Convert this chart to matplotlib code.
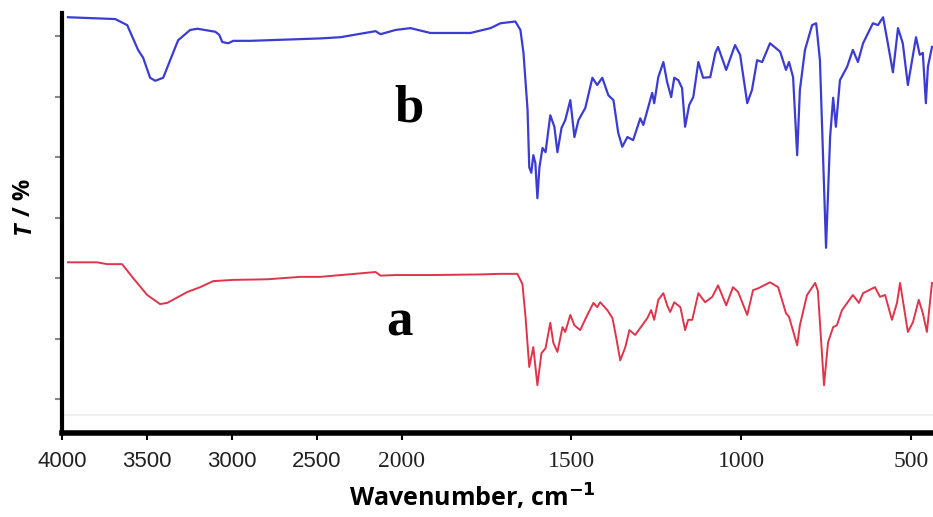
import numpy as np
import matplotlib
matplotlib.use("Agg")
import matplotlib.pyplot as plt

# ---- data (wavenumber cm^-1, transmittance in arbitrary % units) ----
wn_b = [3965, 3687, 3616, 3552, 3522, 3481, 3451, 3404, 3363, 3316, 3245, 3203,
        3097, 3074, 3056, 3021, 2991, 2891, 2478, 2360, 2153, 2124, 2035, 1974,
        1915, 1797, 1738, 1709, 1665, 1650, 1641, 1629, 1624, 1618, 1612, 1606,
        1600, 1594, 1585, 1576, 1562, 1550, 1541, 1529, 1518, 1503, 1491, 1479,
        1459, 1438, 1424, 1409, 1391, 1376, 1362, 1350, 1335, 1318, 1297, 1288,
        1262, 1256, 1244, 1229, 1218, 1206, 1197, 1185, 1174, 1165, 1153, 1141,
        1126, 1112, 1091, 1076, 1068, 1044, 1018, 1003, 982, 968, 953, 938,
        915, 885, 868, 859, 847, 835, 827, 812, 791, 779, 768, 750,
        738, 729, 721, 709, 688, 671, 656, 641, 612, 597, 582, 568,
        553, 538, 524, 509, 485, 474, 465, 456, 450, 438]
t_b = [73.1, 72.8, 71.8, 67.7, 66.4, 63.1, 62.6, 63.1, 66.0, 69.3, 71.0, 71.2,
       70.7, 70.2, 69.0, 68.8, 69.2, 69.2, 69.6, 69.8, 70.8, 70.3, 71.0, 71.3,
       70.5, 70.5, 71.3, 72.1, 72.4, 71.0, 67.2, 57.8, 48.3, 47.4, 50.3, 49.0,
       43.2, 48.3, 51.5, 50.8, 56.9, 55.0, 50.8, 54.8, 56.1, 59.4, 53.3, 56.1,
       58.1, 63.1, 61.9, 63.1, 60.2, 59.4, 54.0, 51.7, 53.3, 52.8, 56.4, 55.3,
       60.6, 58.9, 63.2, 65.7, 62.4, 59.9, 63.1, 62.7, 61.4, 55.0, 58.6, 59.9,
       65.7, 63.1, 63.2, 67.2, 68.2, 64.4, 68.5, 66.9, 58.9, 61.1, 66.0, 65.7,
       68.8, 67.4, 64.4, 65.7, 63.2, 50.3, 61.1, 67.7, 71.8, 72.1, 66.0, 35.0,
       53.3, 59.8, 55.0, 62.7, 64.9, 67.7, 65.7, 68.8, 72.1, 71.8, 73.1, 68.8,
       64.0, 71.3, 68.8, 61.9, 69.8, 66.9, 67.2, 58.9, 64.9, 68.2]

wn_a = [3965, 3793, 3734, 3646, 3581, 3498, 3422, 3380, 3262, 3186, 3109, 2991,
        2790, 2596, 2478, 2153, 2124, 2035, 1915, 1768, 1709, 1659, 1644, 1635,
        1624, 1612, 1600, 1588, 1576, 1562, 1553, 1541, 1526, 1518, 1503, 1491,
        1474, 1453, 1435, 1424, 1415, 1394, 1379, 1368, 1356, 1341, 1329, 1312,
        1276, 1265, 1256, 1244, 1229, 1218, 1209, 1197, 1179, 1165, 1156, 1144,
        1126, 1106, 1085, 1068, 1044, 1024, 1009, 982, 965, 950, 915, 891,
        868, 859, 835, 827, 806, 782, 774, 756, 744, 729, 718, 703,
        671, 653, 641, 606, 591, 576, 556, 541, 532, 509, 494, 477,
        465, 453, 438]
t_a = [32.6, 32.6, 32.3, 32.3, 30.0, 27.2, 25.7, 25.9, 27.7, 28.5, 29.5, 29.7,
       29.8, 30.2, 30.2, 31.0, 30.4, 30.5, 30.5, 30.6, 30.7, 30.7, 29.0, 23.6,
       15.3, 18.6, 12.3, 17.6, 18.4, 22.6, 19.3, 17.8, 21.9, 21.1, 23.9, 22.2,
       21.4, 23.9, 25.9, 25.2, 26.0, 24.7, 23.4, 20.2, 16.4, 18.6, 21.4, 20.6,
       23.4, 24.7, 23.1, 26.4, 27.5, 25.5, 24.4, 26.0, 25.2, 21.4, 23.1, 23.1,
       27.5, 26.0, 26.9, 28.8, 25.5, 28.5, 27.7, 23.9, 28.0, 28.3, 29.3, 28.5,
       24.2, 23.6, 18.9, 22.2, 27.2, 29.2, 27.9, 12.3, 19.4, 21.9, 22.2, 24.7,
       27.2, 25.9, 27.5, 28.5, 26.9, 27.2, 23.1, 25.9, 29.2, 21.1, 22.7, 26.4,
       24.2, 21.1, 29.2]

xticks = [4000, 3500, 3000, 2500, 2000, 1500, 1000, 500]
xtick_labels = ["4000", "3500", "3000", "2500", "2000", "1500", "1000", "500"]
yticks = [10, 20, 30, 40, 50, 60, 70]
series_labels = ["b", "a"]


def fwd(x):
    x = np.asarray(x, dtype=float)
    return np.where(x >= 2000, x, 2000 - (2000 - x) * 2.0)


def inv(u):
    u = np.asarray(u, dtype=float)
    return np.where(u >= 2000, u, 2000 - (2000 - u) / 2.0)


fig = plt.figure(figsize=(9.33, 5.17), dpi=100)
ax = fig.add_axes([62 / 933, 1 - 433 / 517, 1 - 62 / 933, (433 - 13) / 517])
ax.set_xscale('function', functions=(fwd, inv))
ax.set_xlim(4000, 435)
ax.set_ylim(4.4, 73.8)

ax.axhline(7.3, color='#ececec', lw=1.2, zorder=0)
ax.plot(wn_b, t_b, color='#3c3cd2', lw=1.6, solid_joinstyle='round')
ax.plot(wn_a, t_a, color='#e0344c', lw=1.4, solid_joinstyle='round')

for s in ['top', 'right']:
    ax.spines[s].set_visible(False)
ax.spines['left'].set_linewidth(3.0)
ax.spines['bottom'].set_linewidth(4.0)

ax.set_yticks(yticks)
ax.set_yticklabels([])
ax.tick_params(axis='y', direction='out', length=5, width=1.5, colors='#888888')
ax.set_xticks(xticks)
ax.set_xticklabels(xtick_labels)
ax.tick_params(axis='x', direction='out', length=5, width=1.5, pad=8, colors='black')
for i, lab in enumerate(ax.get_xticklabels()):
    if i < 4:
        lab.set_fontfamily(['Liberation Sans', 'DejaVu Sans'])
        lab.set_fontsize(16)
    else:
        lab.set_fontfamily(['Liberation Serif', 'DejaVu Serif'])
        lab.set_fontsize(17)
    lab.set_color('#222222')

fig.text(472 / 933, 1 - 497 / 517, "Wavenumber, cm$^{\\mathbf{-1}}$", ha='center', va='center',
         fontsize=18, fontweight='bold', family=['Open Sans', 'DejaVu Sans'])
fig.text(24 / 933, 1 - 229 / 517, "T", rotation=90, ha='center', va='center',
         fontsize=17, fontweight='bold', fontstyle='italic', family=['Open Sans', 'DejaVu Sans'])
fig.text(24 / 933, 1 - 197 / 517, "/ %", rotation=90, ha='center', va='center',
         fontsize=17, fontweight='bold', family=['Open Sans', 'DejaVu Sans'])

fig.text(409 / 933, 1 - 122 / 517, series_labels[0], ha='center', va='baseline',
         fontsize=38, fontweight='bold', family=['Liberation Serif', 'DejaVu Serif'])
fig.text(399 / 933, 1 - 336 / 517, series_labels[1], ha='center', va='baseline',
         fontsize=38, fontweight='bold', family=['Liberation Serif', 'DejaVu Serif'])

fig.savefig("out.png", dpi=100)
